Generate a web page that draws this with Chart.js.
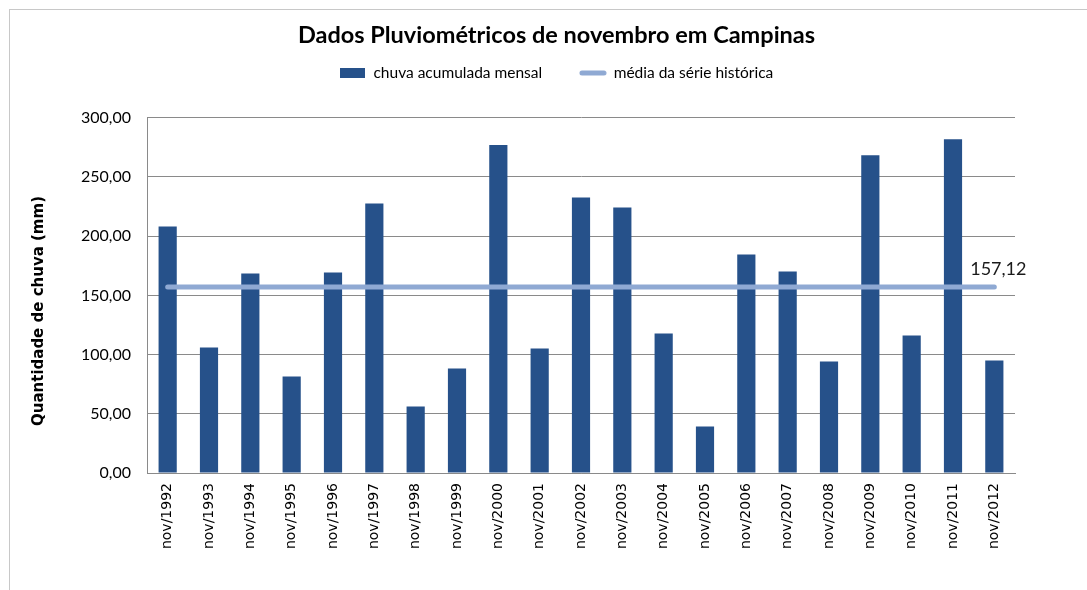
<!DOCTYPE html>
<html>
<head>
<meta charset="utf-8">
<script src="https://cdn.jsdelivr.net/npm/chart.js@4"></script>
<style>
  html, body { margin: 0; padding: 0; background: #fff; }
  #wrap { position: relative; width: 1087px; height: 590px; overflow: hidden; }
  #frame { position: absolute; left: 9px; top: 9px; width: 1200px; height: 700px;
           border-left: 1px solid #c8c8c8; border-top: 1px solid #c8c8c8; }
  canvas { position: absolute; left: 0; top: 0; }
</style>
</head>
<body>
<div id="wrap">
  <div id="frame"></div>
  <canvas id="chuva" width="1087" height="590"></canvas>
</div>
<script>
// ---------- Data ----------
const meses = [
  "nov/1992", "nov/1993", "nov/1994", "nov/1995", "nov/1996", "nov/1997", "nov/1998",
  "nov/1999", "nov/2000", "nov/2001", "nov/2002", "nov/2003", "nov/2004", "nov/2005",
  "nov/2006", "nov/2007", "nov/2008", "nov/2009", "nov/2010", "nov/2011", "nov/2012"
];
const chuvaMensal = [
  208.2, 106, 168.5, 81.5, 169.3, 227.6, 56.2,
  88.3, 276.9, 105.2, 232.7, 224.2, 117.8, 39.3,
  184.5, 170.2, 94.2, 268.2, 116.1, 281.7, 95
];
const mediaHistorica = [
  157.12, 157.12, 157.12, 157.12, 157.12, 157.12, 157.12,
  157.12, 157.12, 157.12, 157.12, 157.12, 157.12, 157.12,
  157.12, 157.12, 157.12, 157.12, 157.12, 157.12, 157.12
];
const yTicks = [0, 50, 100, 150, 200, 250, 300];

const corBarra = "#26518A";
const corMedia = "#8FA9D3";
const corGrade = "#8a8a8a";

const fmt = (v) => Number(v).toFixed(2).replace(".", ",");

// ---------- Legend symbols ----------
function makeSymbol(w, h, draw) {
  const c = document.createElement("canvas");
  c.width = w; c.height = h;
  draw(c.getContext("2d"));
  return c;
}
const simboloBarra = makeSymbol(25, 10, (g) => {
  g.fillStyle = corBarra;
  g.fillRect(0, 0, 25, 10);
});
const simboloMedia = makeSymbol(28, 6, (g) => {
  g.strokeStyle = corMedia;
  g.lineWidth = 5;
  g.lineCap = "round";
  g.beginPath();
  g.moveTo(3, 3);
  g.lineTo(25, 3);
  g.stroke();
});

// ---------- Label for the mean at the end of the line ----------
const rotuloMedia = {
  id: "rotuloMedia",
  afterDatasetsDraw(chart) {
    const meta = chart.getDatasetMeta(1);
    const last = meta.data[meta.data.length - 1];
    if (!last) return;
    const ctx = chart.ctx;
    ctx.save();
    ctx.font = "18px Lato";
    ctx.fillStyle = "#1a1a1a";
    ctx.textAlign = "center";
    ctx.textBaseline = "alphabetic";
    ctx.fillText(fmt(mediaHistorica[mediaHistorica.length - 1]), last.x + 4, last.y - 12);
    ctx.restore();
  },
};

new Chart(document.getElementById("chuva"), {
  type: "bar",
  data: {
    labels: meses,
    datasets: [
      {
        label: "chuva acumulada mensal       ",
        data: chuvaMensal,
        backgroundColor: corBarra,
        barPercentage: 0.44,
        categoryPercentage: 1,
        order: 2,
      },
      {
        type: "line",
        label: "média da série histórica",
        data: mediaHistorica,
        borderColor: corMedia,
        backgroundColor: corMedia,
        borderWidth: 5,
        borderCapStyle: "round",
        pointRadius: 0,
        pointHoverRadius: 0,
        order: 1,
      },
    ],
  },
  options: {
    responsive: false,
    animation: false,
    layout: { padding: { left: 26, right: 0, top: 0, bottom: 0 } },
    plugins: {
      title: {
        display: true,
        text: "Dados Pluviométricos de novembro em Campinas",
        color: "#000",
        font: { family: "Lato", size: 23.5, weight: "bold" },
        padding: { top: 21, bottom: 6 },
      },
      subtitle: {
        display: true,
        text: "",
        weight: 500,
        font: { size: 10 },
        padding: { top: 15, bottom: 0 },
      },
      legend: {
        display: true,
        labels: {
          usePointStyle: true,
          pointStyleWidth: 26,
          boxHeight: 15,
          padding: 10,
          color: "#222",
          font: { family: "Lato", size: 15.5 },
          generateLabels: (chart) =>
            chart.data.datasets.map((ds, i) => ({
              text: ds.label,
              pointStyle: i === 0 ? simboloBarra : simboloMedia,
              fillStyle: ds.backgroundColor,
              strokeStyle: ds.borderColor,
              lineWidth: 0,
              hidden: false,
              datasetIndex: i,
            })),
        },
      },
      tooltip: { enabled: false },
    },
    scales: {
      x: {
        grid: { display: false, drawTicks: false },
        border: { color: corGrade },
        ticks: {
          minRotation: 90,
          maxRotation: 90,
          autoSkip: false,
          padding: 10,
          color: "#000",
          font: { family: "DejaVu Sans", size: 14 },
        },
        afterFit: (scale) => { scale.height = 117; },
      },
      y: {
        min: 0,
        max: 300,
        afterBuildTicks: (scale) => { scale.ticks = yTicks.map((v) => ({ value: v })); },
        grid: { color: corGrade, drawTicks: false },
        border: { color: corGrade },
        ticks: {
          padding: 16,
          color: "#000",
          font: { family: "Lato", size: 16 },
          callback: (v) => fmt(v),
        },
        title: {
          display: true,
          text: "Quantidade de chuva (mm)      ",
          color: "#000",
          font: { family: "DejaVu Sans", size: 15, weight: "bold" },
        },
        afterFit: (scale) => { scale.width = 121; },
      },
      // empty right-hand strip so the plot ends where the reference does
      margem: {
        type: "linear",
        position: "right",
        grid: { display: false, drawTicks: false },
        border: { display: false },
        ticks: { display: false },
        afterFit: (scale) => { scale.width = 72; },
      },
    },
  },
  plugins: [rotuloMedia],
});
</script>
</body>
</html>
